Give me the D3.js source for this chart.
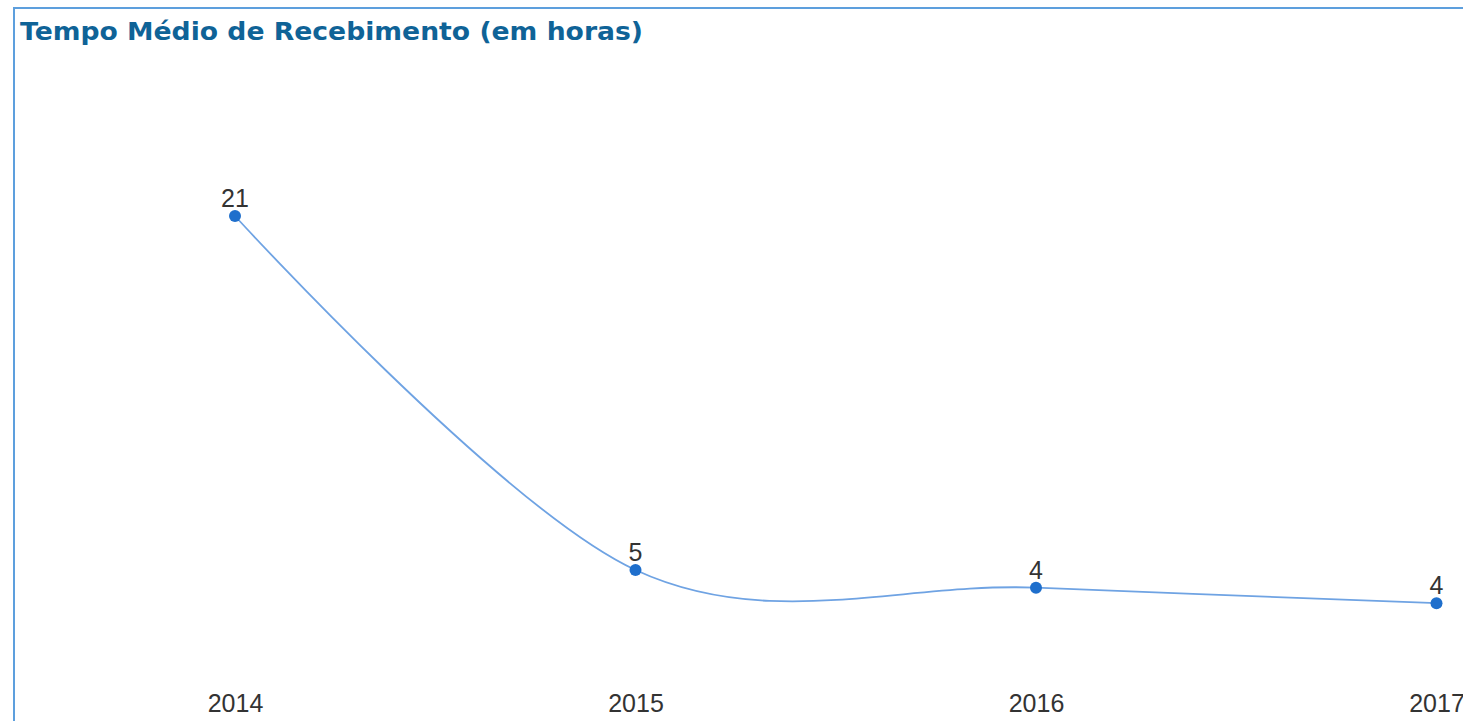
<!DOCTYPE html>
<html>
<head>
<meta charset="utf-8">
<script src="https://cdn.jsdelivr.net/npm/d3@7"></script>
<style>
  html, body { margin: 0; padding: 0; background: #ffffff; overflow: hidden; }
  svg { display: block; }
</style>
</head>
<body>
<svg id="chart" width="1463" height="721"></svg>
<script>
const chartTitle = "Tempo Médio de Recebimento (em horas)";
const years = ["2014", "2015", "2016", "2017"];
const values = [21, 5, 4.2, 3.5];

const W = 1463, H = 721;
const svg = d3.select("#chart");

// frame
svg.append("rect")
  .attr("x", 14).attr("y", 8)
  .attr("width", W + 20).attr("height", H + 20)
  .attr("fill", "none")
  .attr("stroke", "#5d9fdd")
  .attr("stroke-width", 2);

// title
svg.append("text")
  .attr("x", 20).attr("y", 40)
  .attr("font-family", "'DejaVu Sans', Verdana, sans-serif")
  .attr("font-weight", "bold")
  .attr("font-size", 25)
  .attr("fill", "#0f6397")
  .attr("textLength", 623)
  .attr("lengthAdjust", "spacingAndGlyphs")
  .text(chartTitle);

const x = d3.scalePoint().domain(years).range([235, 1436.5]);
const y = d3.scaleLinear().domain([0, 21]).range([680.6, 216]);

const pts = years.map((yr, i) => ({ yr, v: values[i] }));

// line
const line = d3.line()
  .x(d => x(d.yr))
  .y(d => y(d.v))
  .curve(d3.curveCardinal.tension(0));

svg.append("path")
  .datum(pts)
  .attr("d", line)
  .attr("fill", "none")
  .attr("stroke", "#6fa3e3")
  .attr("stroke-width", 1.8);

// dots
svg.selectAll("circle.dot")
  .data(pts)
  .join("circle")
  .attr("class", "dot")
  .attr("cx", d => x(d.yr))
  .attr("cy", d => y(d.v))
  .attr("r", 6)
  .attr("fill", "#1f6fcc");

// data labels
svg.selectAll("text.lbl")
  .data(pts)
  .join("text")
  .attr("class", "lbl")
  .attr("x", d => x(d.yr))
  .attr("y", d => y(d.v) - 9)
  .attr("text-anchor", "middle")
  .attr("font-family", "'Liberation Sans', Arial, sans-serif")
  .attr("font-size", 25)
  .attr("fill", "#333333")
  .text(d => Math.round(d.v));

// x axis (labels only)
const axis = svg.append("g")
  .attr("transform", "translate(0,690)")
  .call(d3.axisBottom(x).tickSize(0).tickPadding(0));
axis.select(".domain").remove();
axis.selectAll("text")
  .attr("dy", 0)
  .attr("y", 22)
  .attr("font-family", "'Liberation Sans', Arial, sans-serif")
  .attr("font-size", 25)
  .attr("fill", "#333333");
</script>
</body>
</html>
